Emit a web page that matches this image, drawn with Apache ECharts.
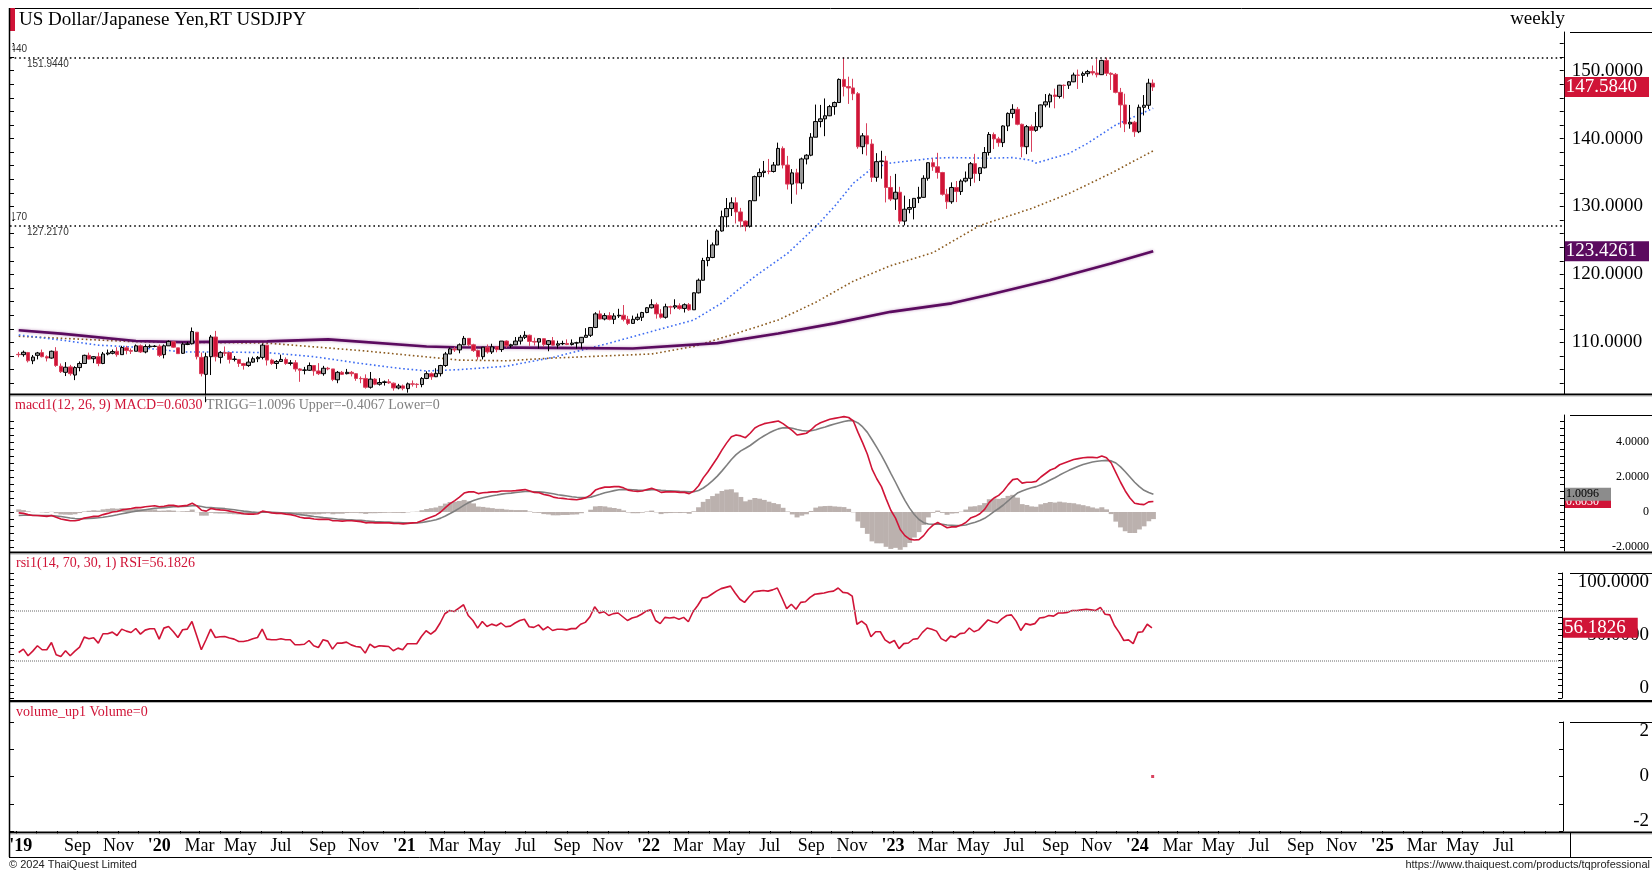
<!DOCTYPE html>
<html><head><meta charset="utf-8">
<script src="https://cdn.jsdelivr.net/npm/echarts@6/dist/echarts.min.js"></script>
<style>html,body{margin:0;padding:0;background:#fff}#c{width:1652px;height:871px}</style>
</head><body><div id="c"></div><script>
// ---------------- DATA ----------------
const firstWeek = '2019-06-03';   // Monday of first weekly bar
// weekly [open, close, low, high]
const ohlc = [
[108.25,108.20,107.82,108.60],[108.20,108.55,107.90,108.80],[108.50,107.30,107.05,108.60],[107.30,107.85,106.80,108.15],
[108.10,108.45,107.50,108.60],[108.50,107.90,107.80,108.95],[107.90,107.70,107.20,108.10],[107.70,108.70,107.60,108.80],
[108.70,106.60,106.40,109.30],[106.50,105.70,105.50,106.90],[105.60,106.35,105.05,107.10],[106.40,105.40,105.10,106.70],
[105.20,106.30,104.45,106.50],[106.30,106.90,105.75,107.20],[106.90,108.10,106.90,108.20],[108.10,107.55,107.50,108.50],
[107.60,107.90,106.95,108.00],[107.90,106.90,106.50,108.50],[106.90,108.30,106.80,108.60],[108.30,108.45,108.10,108.95],
[108.40,108.65,108.25,108.95],[108.70,108.20,107.90,109.30],[108.20,109.25,108.20,109.50],[109.20,108.80,108.25,109.50],
[108.80,108.70,108.30,109.10],[108.70,109.50,108.70,109.70],[109.50,108.60,108.45,109.70],[108.60,109.40,108.40,109.70],
[109.35,109.45,109.20,109.70],[109.40,109.45,109.30,109.60],[109.45,108.10,107.85,109.70],
[108.20,109.50,107.65,109.70],[109.50,110.15,109.50,110.30],[110.10,109.30,109.20,110.20],[109.20,108.35,108.30,109.20],
[108.40,109.75,108.30,110.00],[109.70,109.80,109.60,110.10],[109.80,111.60,109.70,112.20],[111.50,107.90,107.50,111.50],
[107.80,105.40,105.00,108.50],[105.30,107.90,101.20,108.50],[107.90,110.80,105.20,111.10],[110.80,107.90,107.20,111.70],
[107.80,108.50,106.90,108.70],[108.50,108.40,108.00,109.40],[108.50,107.50,106.90,108.10],[107.50,107.55,107.20,108.00],
[107.50,106.90,106.40,107.50],[106.90,106.60,106.00,107.00],[106.60,107.10,106.40,107.80],[107.10,107.60,107.00,107.90],
[107.60,107.80,107.10,108.00],[107.80,109.60,107.50,109.85],[109.60,107.40,106.60,109.60],[107.40,106.90,106.70,107.60],
[106.90,107.20,106.10,107.40],[107.20,107.50,107.20,108.20],[107.50,106.90,106.70,107.80],[106.90,107.00,106.60,107.40],
[107.00,106.10,105.70,107.40],[106.10,105.90,104.20,106.20],[105.90,105.95,105.30,106.40],[105.90,106.60,105.80,107.05],
[106.60,105.80,105.10,106.60],[105.80,105.40,105.20,106.95],[105.40,106.20,105.10,106.55],[106.20,106.10,105.90,106.40],
[106.10,104.55,104.30,106.10],[104.50,105.60,104.00,105.80],[105.60,105.30,105.20,105.80],[105.40,105.60,105.30,106.10],
[105.60,105.40,105.00,105.80],[105.40,104.70,104.35,105.50],[104.70,104.65,104.00,105.00],[104.70,103.40,103.20,105.30],
[103.40,104.60,103.20,105.65],[104.60,103.85,103.70,104.75],[103.85,104.10,103.65,104.75],[104.10,104.20,103.65,104.40],
[104.20,104.05,103.90,104.60],[104.00,103.30,102.90,104.10],[103.30,103.60,103.10,103.90],[103.60,103.25,102.95,103.80],
[103.20,103.90,102.60,104.10],[103.90,103.85,103.50,104.40],[103.85,103.80,103.30,104.00],[103.80,104.70,103.40,104.90],
[104.70,105.40,104.60,105.75],[105.40,104.95,104.50,105.60],[104.95,105.45,104.90,106.20],[105.40,106.60,105.00,106.70],
[106.60,108.30,106.40,108.60],[108.30,109.05,108.30,109.25],[109.00,108.90,108.60,109.35],[108.90,109.65,108.40,109.85],
[109.65,110.60,109.60,110.95],[110.60,109.65,109.50,110.60],[109.65,108.80,108.60,109.80],[108.80,107.90,107.45,108.95],
[107.90,109.30,107.50,109.30],[109.30,108.60,108.35,109.70],[108.60,109.35,108.30,109.80],[109.35,108.95,108.55,109.30],
[108.95,110.20,108.60,110.20],[110.20,109.50,109.20,110.30],[109.50,109.65,109.20,109.80],[109.65,110.20,109.60,110.80],
[110.20,110.75,109.70,111.10],[110.75,111.05,110.50,111.65],[111.05,110.15,109.50,111.15],[110.15,110.05,109.55,110.70],
[110.05,110.55,109.10,110.60],[110.55,109.70,109.35,110.60],[109.70,110.25,108.70,110.35],[110.25,109.60,109.55,110.80],
[109.60,109.80,109.10,110.25],[109.80,109.85,109.60,110.25],[109.85,109.70,109.60,110.45],[109.70,109.90,109.55,110.45],
[109.90,109.95,109.10,110.10],[109.95,110.75,109.10,110.80],[110.75,111.05,110.75,112.10],[111.05,112.20,110.80,112.25],
[112.20,114.20,112.10,114.45],[114.20,113.45,113.40,114.70],[113.45,113.95,113.25,114.30],[113.95,113.40,113.25,114.45],
[113.40,113.90,112.70,114.30],[113.90,114.00,113.60,114.95],[114.00,113.40,113.10,115.50],[113.40,112.80,112.55,113.90],
[112.80,113.40,112.75,113.95],[113.40,113.70,113.20,114.25],[113.70,114.40,113.15,114.50],[114.40,115.10,114.30,115.20],
[115.10,115.55,115.00,116.35],[115.55,114.20,113.50,115.85],[114.20,113.70,113.50,114.90],[113.70,115.25,113.50,115.70],
[115.25,115.20,114.15,115.40],[115.20,115.40,114.90,116.35],[115.40,115.00,114.80,115.75],[115.00,115.55,114.40,115.75],
[115.55,114.80,114.65,115.80],[114.80,117.30,114.80,117.35],[117.30,119.15,117.20,119.40],[119.15,122.05,119.10,122.45],
[122.05,122.50,121.20,125.10],[122.50,124.35,122.40,124.70],[124.35,126.40,124.30,126.70],[126.40,128.50,126.30,129.40],
[128.50,129.70,126.95,131.25],[129.70,130.55,128.60,131.35],[130.55,129.20,127.50,131.35],[129.20,127.85,126.95,129.80],
[127.85,127.10,126.35,127.95],[127.10,130.85,126.90,130.95],[130.85,134.40,130.80,134.55],[134.40,135.00,131.50,135.60],
[135.00,135.20,134.30,136.70],[135.20,135.15,134.75,137.00],[135.15,136.10,135.00,136.55],[136.10,138.55,136.10,139.40],
[138.55,136.10,135.60,138.85],[136.10,133.30,132.50,137.45],[133.30,134.95,130.40,135.50],[134.95,133.45,131.75,135.55],
[133.45,137.00,132.55,137.20],[137.00,137.55,136.20,137.70],[137.55,140.20,137.40,140.80],[140.20,142.50,140.20,145.00],
[142.50,142.90,141.65,144.95],[142.90,143.35,140.35,145.90],[143.35,144.70,143.30,144.95],[144.70,145.30,143.50,145.45],
[145.30,148.70,145.30,148.85],[148.70,147.65,146.20,151.95],[147.65,147.45,145.10,149.10],[147.45,146.60,145.65,148.80],
[146.60,138.80,138.50,146.85],[138.80,140.40,137.70,140.80],[140.40,139.20,137.50,142.25],[139.20,134.30,133.60,139.90],
[134.30,136.60,133.65,137.85],[136.60,136.70,134.10,138.20],[136.70,132.80,130.60,137.45],[132.80,131.10,130.80,134.50],
[131.10,132.10,129.50,134.80],[132.10,127.85,127.45,132.90],[127.85,129.60,127.22,131.60],[129.60,129.85,129.00,131.10],
[129.85,131.20,128.10,131.20],[131.20,131.35,130.50,132.90],[131.35,134.15,131.30,134.60],[134.15,136.45,133.80,136.50],
[136.45,135.85,135.25,137.10],[135.85,135.00,134.10,137.90],[135.00,131.80,131.60,135.10],[131.80,130.70,129.65,132.60],
[130.70,132.80,130.40,133.55],[132.80,132.20,130.65,133.75],[132.20,133.75,131.70,134.00],[133.75,134.15,133.55,135.15],
[134.15,136.30,133.00,136.55],[136.30,134.85,133.50,137.75],[134.85,135.70,133.75,135.75],[135.70,137.95,135.60,138.75],
[137.95,140.60,137.50,140.95],[140.60,139.95,138.45,140.90],[139.95,139.40,138.80,140.25],[139.40,141.85,138.75,141.95],
[141.85,143.70,141.10,143.85],[143.70,144.30,143.00,145.05],[144.30,142.10,141.95,144.65],[142.10,138.80,137.25,142.20],
[138.80,141.75,137.70,142.00],[141.75,141.20,138.05,142.05],[141.20,141.75,141.00,143.90],[141.75,144.95,141.50,145.00],
[144.95,145.40,144.60,146.55],[145.40,146.40,144.55,146.65],[146.40,146.20,144.45,147.35],[146.20,147.85,145.90,147.90],
[147.85,147.80,145.90,147.95],[147.85,148.35,147.30,148.45],[148.35,149.35,148.30,149.70],[149.35,149.30,147.30,150.15],
[149.30,149.55,148.20,149.85],[149.55,149.85,149.10,150.10],[149.85,149.65,149.30,150.75],[149.65,149.40,149.00,151.70],
[149.40,151.50,149.35,151.60],[151.50,149.60,149.20,151.90],[149.60,149.45,147.15,149.75],[149.45,146.80,146.65,149.65],
[146.80,144.95,141.60,147.45],[144.95,142.15,140.95,146.60],[142.15,142.40,141.45,144.95],[142.40,141.00,140.25,142.60],
[141.00,144.60,140.80,145.00],[144.60,144.90,143.40,146.40],[144.90,148.15,144.35,148.80],[148.15,147.58,147.00,148.70]
];
// moving averages: [bar index, value]
const maBlue = [[0,111.1],[9,110.35],[17,109.6],[25,109.3],[35,108.6],[42,108.6],[53,108.5],[63,107.9],[73,106.9],[81,106.2],[87,105.8],[94,106.0],[104,106.5],[114,107.8],[126,109.9],[136,111.8],[144,113.3],[150,115.8],[157,119.7],[164,123.1],[170,127.0],[174,130.0],[178,133.4],[182,135.6],[186,136.4],[195,137.1],[199,137.2],[207,137.1],[212,137.2],[216,136.8],[217,136.4],[224,137.8],[228,139.3],[234,142.0],[242,144.45]];
const maBrown = [[0,110.9],[25,110.1],[53,109.9],[73,108.8],[94,107.4],[104,107.3],[114,107.7],[135,108.3],[144,109.4],[153,111.3],[162,113.3],[170,115.9],[178,119.0],[186,121.3],[195,123.2],[205,127.2],[216,129.7],[224,131.9],[233,134.9],[242,138.2]];
const maPurple = [[0,111.8],[9,111.3],[25,110.2],[35,110.05],[53,110.15],[66,110.45],[87,109.4],[93,109.3],[114,109.2],[131,109.1],[149,109.9],[162,111.3],[174,112.8],[186,114.5],[199,115.75],[207,117.0],[220,119.2],[233,121.6],[242,123.4261]];
const macd = [
-0.05,-0.08,-0.15,-0.2,-0.2,-0.22,-0.25,-0.2,-0.3,-0.4,
-0.45,-0.5,-0.5,-0.45,-0.35,-0.3,-0.25,-0.25,-0.15,-0.08,
0.0,0.03,0.12,0.16,0.2,0.25,0.25,0.3,0.33,0.36,
0.3,0.33,0.38,0.38,0.32,0.35,0.38,0.5,0.35,0.1,
0.05,0.2,0.15,0.12,0.1,0.05,0.0,-0.05,-0.1,-0.12,
-0.12,-0.1,0.05,0.0,-0.05,-0.08,-0.08,-0.12,-0.15,-0.22,
-0.3,-0.35,-0.35,-0.4,-0.42,-0.42,-0.42,-0.5,-0.5,-0.52,
-0.5,-0.5,-0.52,-0.55,-0.62,-0.6,-0.62,-0.62,-0.62,-0.62,
-0.65,-0.66,-0.68,-0.65,-0.62,-0.6,-0.5,-0.38,-0.28,-0.18,
0.0,0.25,0.48,0.65,0.85,1.08,1.15,1.15,1.05,1.1,
1.12,1.15,1.15,1.2,1.2,1.2,1.22,1.25,1.28,1.2,
1.12,1.1,1.0,0.95,0.85,0.8,0.78,0.74,0.72,0.7,
0.75,0.82,0.98,1.25,1.35,1.42,1.42,1.45,1.45,1.38,
1.25,1.2,1.18,1.2,1.28,1.35,1.25,1.12,1.15,1.15,
1.15,1.12,1.12,1.05,1.2,1.5,1.95,2.3,2.7,3.1,
3.55,3.95,4.3,4.4,4.35,4.25,4.5,4.8,4.95,5.05,
5.1,5.15,5.2,5.05,4.85,4.65,4.4,4.45,4.5,4.7,
4.95,5.1,5.2,5.3,5.35,5.4,5.45,5.4,5.2,4.55,
3.95,3.3,2.45,1.9,1.45,0.75,0.1,-0.35,-1.0,-1.35,
-1.55,-1.6,-1.58,-1.35,-1.0,-0.75,-0.6,-0.75,-0.9,-0.85,
-0.85,-0.75,-0.6,-0.35,-0.25,-0.1,0.15,0.55,0.8,0.95,
1.2,1.55,1.85,1.9,1.65,1.7,1.7,1.75,2.0,2.2,
2.4,2.5,2.7,2.8,2.9,3.0,3.05,3.1,3.12,3.12,
3.1,3.2,3.1,2.8,2.25,1.7,1.2,0.8,0.5,0.45,
0.42,0.58,0.603];
const trigg = [
-0.2,-0.19,-0.19,-0.19,-0.2,-0.2,-0.21,-0.21,-0.23,-0.26,
-0.3,-0.34,-0.37,-0.39,-0.38,-0.37,-0.35,-0.33,-0.3,-0.26,
-0.21,-0.16,-0.1,-0.05,0.0,0.05,0.09,0.13,0.17,0.21,
0.23,0.25,0.28,0.3,0.3,0.31,0.33,0.36,0.36,0.31,
0.26,0.25,0.23,0.21,0.19,0.16,0.13,0.09,0.05,0.02,
-0.01,-0.03,-0.01,-0.01,-0.02,-0.03,-0.04,-0.06,-0.08,-0.11,
-0.15,-0.19,-0.22,-0.26,-0.29,-0.32,-0.34,-0.37,-0.4,-0.42,
-0.44,-0.45,-0.47,-0.48,-0.51,-0.53,-0.55,-0.56,-0.57,-0.58,
-0.6,-0.61,-0.62,-0.63,-0.63,-0.62,-0.6,-0.55,-0.5,-0.44,
-0.35,-0.23,-0.09,0.06,0.22,0.39,0.54,0.66,0.74,0.81,
0.87,0.93,0.97,1.02,1.06,1.08,1.11,1.14,1.17,1.17,
1.16,1.15,1.12,1.09,1.04,0.99,0.95,0.91,0.87,0.84,
0.82,0.82,0.85,0.93,1.01,1.1,1.16,1.22,1.27,1.29,
1.28,1.27,1.25,1.24,1.25,1.27,1.27,1.24,1.22,1.21,
1.2,1.18,1.17,1.15,1.16,1.23,1.37,1.56,1.79,2.05,
2.35,2.67,3.0,3.28,3.49,3.64,3.8,4.0,4.19,4.36,
4.51,4.64,4.75,4.81,4.82,4.79,4.71,4.66,4.63,4.64,
4.7,4.78,4.86,4.95,5.03,5.1,5.17,5.22,5.22,5.09,
4.86,4.55,4.13,3.69,3.24,2.74,2.21,1.7,1.16,0.66,
0.22,-0.14,-0.43,-0.61,-0.69,-0.7,-0.68,-0.7,-0.74,-0.76,
-0.78,-0.77,-0.74,-0.66,-0.58,-0.49,-0.36,-0.18,0.02,0.2,
0.4,0.63,0.87,1.08,1.2,1.3,1.38,1.45,1.56,1.69,
1.83,1.96,2.11,2.25,2.38,2.5,2.61,2.71,2.79,2.86,
2.9,2.93,2.95,2.92,2.8,2.58,2.3,2.0,1.7,1.45,
1.24,1.11,1.0096];
const hist = [
0.15,0.11,0.04,-0.01,0,-0.02,-0.04,0.01,-0.07,-0.14,
-0.15,-0.16,-0.13,-0.06,0.03,0.07,0.1,0.08,0.15,0.18,
0.21,0.19,0.22,0.21,0.2,0.2,0.16,0.17,0.16,0.15,
0.07,0.08,0.1,0.08,0.02,0.04,0.05,0.14,-0.01,-0.21,
-0.21,-0.05,-0.08,-0.09,-0.09,-0.11,-0.13,-0.14,-0.15,-0.14,
-0.11,-0.07,0.06,0.01,-0.03,-0.05,-0.04,-0.06,-0.07,-0.11,
-0.15,-0.16,-0.13,-0.14,-0.13,-0.1,-0.08,-0.13,-0.1,-0.1,
-0.06,-0.05,-0.05,-0.07,-0.11,-0.07,-0.07,-0.06,-0.05,-0.04,
-0.05,-0.05,-0.06,-0.02,0.01,0.02,0.1,0.17,0.22,0.26,
0.35,0.48,0.57,0.59,0.63,0.69,0.61,0.49,0.31,0.29,
0.25,0.22,0.18,0.18,0.14,0.12,0.11,0.11,0.11,0.03,
-0.04,-0.05,-0.12,-0.14,-0.19,-0.19,-0.17,-0.17,-0.15,-0.14,
-0.07,0,0.13,0.32,0.34,0.32,0.26,0.23,0.18,0.09,
-0.03,-0.07,-0.07,-0.04,0.03,0.08,-0.02,-0.12,-0.07,-0.06,
-0.05,-0.06,-0.05,-0.1,0.04,0.27,0.58,0.74,0.91,1.05,
1.2,1.28,1.3,1.12,0.86,0.61,0.7,0.8,0.76,0.69,
0.59,0.51,0.45,0.24,0.03,-0.14,-0.31,-0.21,-0.13,0.06,
0.25,0.32,0.34,0.35,0.32,0.3,0.28,0.18,-0.02,-0.54,
-0.91,-1.25,-1.68,-1.79,-1.79,-1.99,-2.11,-2.05,-2.16,-2.01,
-1.77,-1.46,-1.15,-0.74,-0.31,-0.05,0.08,-0.05,-0.16,-0.09,
-0.07,0.02,0.14,0.31,0.33,0.39,0.51,0.73,0.78,0.75,
0.8,0.92,0.98,0.82,0.45,0.4,0.32,0.3,0.44,0.51,
0.57,0.54,0.59,0.55,0.52,0.5,0.44,0.39,0.33,0.26,
0.2,0.27,0.15,-0.12,-0.55,-0.88,-1.1,-1.2,-1.2,-1.0,
-0.82,-0.53,-0.4067];
const rsi = [
36.4,39.1,33.8,37.5,41.8,38.6,38.6,44.4,34.6,33.2,
37.8,33.8,37.5,40.7,48.7,47.4,48.2,43.9,51.4,51.4,
52.7,50.0,55.1,53.5,52.4,55.6,51.1,54.3,55.4,55.4,
47.1,55.9,57.2,53.2,48.4,54.6,55.1,61.2,50.0,38.6,
46.6,55.1,48.4,49.0,49.2,48.0,47.1,45.2,45.2,46.0,
47.4,48.4,55.1,47.1,46.6,46.6,47.4,46.6,46.6,42.6,
42.6,43.0,46.0,41.8,40.4,46.6,45.5,39.1,43.9,43.9,
44.7,42.5,41.2,40.7,35.9,43.1,40.4,41.8,41.5,41.2,
37.8,39.9,38.6,43.4,43.4,43.4,49.2,53.8,51.1,54.0,
60.0,67.4,70.0,69.2,71.9,74.6,66.0,62.0,55.9,61.2,
57.2,59.1,57.8,60,57,57.5,60,62,63,57,
56.5,58.5,54.5,57,54,55,55,54.5,55.5,55.5,
59,60.5,65,73,68,69,66,67.5,68,65,
62,64,65,67,69.5,70.5,62,59.5,64.5,64,
64.5,63,64.5,61,69,74,80,80.5,83,85.5,
87.5,88.5,89.5,84,79,76.5,81,85,85.5,86,
85.5,86.5,88,80,71.5,75,71,76.5,77,80.5,
83,83.5,84,85,85.5,88,84.5,84,81.5,59,
61.5,58.5,49,53,53,46.5,44,46,39.5,43.5,
44,47,47.5,52.5,56,55,53.5,47.5,45.5,49.5,
48.5,51.5,52,56,53,54.5,58.5,62.5,61,60,
63.5,66,66.5,61.5,54,59.5,58.5,59.5,64,64.5,
66,65.5,68,68,68.5,70,70,70.5,71,70.5,
70,72.5,67,66.5,58,52.5,46,46.5,43.5,52.5,
53,59,56.1826];
const levels = [151.944, 127.217];           // dotted high / low lines
const lastValues = {close:147.584, ma200:123.4261, macd:0.603, trigg:1.0096, rsi:56.1826, volume:0};
const tickDates = ['2019-06-08','2019-09-01','2019-11-01','2020-01-01','2020-03-01','2020-05-01','2020-07-01','2020-09-01','2020-11-01',
'2021-01-01','2021-03-01','2021-05-01','2021-07-01','2021-09-01','2021-11-01','2022-01-01','2022-03-01','2022-05-01','2022-07-01','2022-09-01','2022-11-01',
'2023-01-01','2023-03-01','2023-05-01','2023-07-01','2023-09-01','2023-11-01','2024-01-01','2024-03-01','2024-05-01','2024-07-01','2024-09-01','2024-11-01',
'2025-01-01','2025-03-01','2025-05-01','2025-07-01'];
const tickLabels = ["'19",'Sep','Nov',"'20",'Mar','May','Jul','Sep','Nov',"'21",'Mar','May','Jul','Sep','Nov',"'22",'Mar','May','Jul','Sep','Nov',
"'23",'Mar','May','Jul','Sep','Nov',"'24",'Mar','May','Jul','Sep','Nov',"'25",'Mar','May','Jul'];
const priceTicks = [110,120,130,140,150];
const macdTicks = [-2,0,2,4];
const rsiTicks = [0,50,100];
const volTicks = [-2,0,2];

// ---------------- LAYOUT / STYLE ----------------
const SERIF = "'Liberation Serif','DejaVu Serif',serif";
const SANS = "'Liberation Sans','DejaVu Sans',sans-serif";
const RED = '#d01437', PURPLE = '#5b0b5f';
const L = 10, R = 1570, W = 1652;
const P = {main:[32,394], macd:[415,551], rsi:[573,698], vol:[722,831]};
const YR = {main:[102.41,155.68], macd:[-2.229,5.543], rsi:[0,100], vol:[-2,2]};
const XMIN = -223, XMAX = 2097;

const DAY0 = Date.UTC(2020,0,1);
function dayOf(s){const a=s.split('-').map(Number);return Math.round((Date.UTC(a[0],a[1]-1,a[2])-DAY0)/864e5);}
const w0 = dayOf(firstWeek);
const xs = ohlc.map((_,i)=>w0+7*i+2);
const tickDays = tickDates.map(dayOf);
const labelOf = {}; tickDays.forEach((d,i)=>{labelOf[d]=tickLabels[i];});
const monthDays=[]; for(let y=2019;y<=2025;y++)for(let m=0;m<12;m++){const d=(Date.UTC(y,m,1)-DAY0)/864e5; if(d>XMIN&&d<XMAX) monthDays.push(d);}
function range(a,b,s){const r=[];for(let v=a;v<=b+1e-9;v+=s)r.push(+v.toFixed(4));return r;}

const grids = ['main','macd','rsi','vol'].map(k=>({left:L,width:R-L,top:P[k][0],height:P[k][1]-P[k][0],containLabel:false}));
const xAxes = [0,1,2,3].map(gi=>({type:'value',gridIndex:gi,min:XMIN,max:XMAX,show:gi===3,position:'bottom',
  axisLine:{show:false,onZero:false},splitLine:{show:false},
  axisTick:{show:gi===3,customValues:monthDays,length:3,lineStyle:{color:'#000'}},
  axisLabel:{show:gi===3,customValues:tickDays,margin:6,fontSize:18,fontFamily:SERIF,color:'#000',
    formatter:v=>{const t=labelOf[v]||'';return t.charAt(0)==="'"?'{b|'+t+'}':t;},
    rich:{b:{fontWeight:'bold',fontSize:18,fontFamily:SERIF,color:'#000'}}}}));
function leftAxis(gi,rg,ticks){return {type:'value',gridIndex:gi,min:rg[0],max:rg[1],position:'left',
  axisLine:{show:false,onZero:false},splitLine:{show:false},axisLabel:{show:false},
  axisTick:{show:true,inside:true,length:4,customValues:ticks,lineStyle:{color:'#000'}}};}
function rightAxis(gi,rg,labels,fmt,lab,ticks){return {type:'value',gridIndex:gi,min:rg[0],max:rg[1],position:'right',
  axisLine:{show:true,onZero:false,lineStyle:{color:'#000',width:1}},splitLine:{show:false},
  axisTick:{show:true,inside:true,length:4,customValues:ticks,lineStyle:{color:'#000'}},
  axisLabel:Object.assign({customValues:labels,formatter:fmt,color:'#000',fontFamily:SERIF},lab)};}
function boxAxis(gi,rg,val,text,bg,fg,fs,z){return {type:'value',gridIndex:gi,min:rg[0],max:rg[1],position:'right',z:z,
  axisLine:{show:false,onZero:false},axisTick:{show:false},splitLine:{show:false},
  axisLabel:{customValues:[val],formatter:()=>text,backgroundColor:bg,color:fg,fontSize:fs,fontFamily:SERIF,
    padding:[1,12,0,1],margin:1,align:'left'}};}
const f4 = v=>v===0?'0':v.toFixed(4);
const yAxes = [
  leftAxis(0,YR.main,range(104,154,2)),
  rightAxis(0,YR.main,priceTicks,v=>v.toFixed(4),{fontSize:19,align:'left',margin:8},range(104,154,2)),
  boxAxis(0,YR.main,lastValues.close,'147.5840',RED,'#fff',19,5),
  boxAxis(0,YR.main,lastValues.ma200,'123.4261',PURPLE,'#fff',19,5),
  leftAxis(1,YR.macd,range(-2,5.2,0.4)),
  rightAxis(1,YR.macd,macdTicks,f4,{fontSize:12,align:'right',margin:85},range(-2,5.2,0.4)),
  boxAxis(1,YR.macd,lastValues.macd,'0.6030',RED,'#fff',12,5),
  boxAxis(1,YR.macd,lastValues.trigg,'1.0096','#8c8c8c','#000',12,6),
  leftAxis(2,YR.rsi,range(0,100,5)),
  rightAxis(2,YR.rsi,rsiTicks,f4,{fontSize:19,align:'right',margin:87,verticalAlignMaxLabel:'top',verticalAlignMinLabel:'bottom'},range(0,100,5)),
  boxAxis(2,YR.rsi,lastValues.rsi,'56.1826',RED,'#fff',19,5),
  leftAxis(3,YR.vol,range(-2,2,1)),
  rightAxis(3,YR.vol,volTicks,v=>String(v),{fontSize:19,align:'right',margin:86,verticalAlignMaxLabel:'top',verticalAlignMinLabel:'bottom'},range(-2,2,1))
];
const pair = arr=>arr.map((v,i)=>[xs[i],v]);
const maLine = (arr,color,width,type,extra)=>Object.assign({type:'line',xAxisIndex:0,yAxisIndex:1,showSymbol:false,symbol:'none',
  data:arr.map(([i,v])=>[xs[i],v]),lineStyle:{color,width,type},z:3,silent:true},extra||{});
const series = [
  maLine(maBrown,'#8b5a1e',1.6,[1.6,2.6]),
  maLine(maBlue,'#3d6cf2',1.6,[1.6,2.6]),
  maLine(maPurple,PURPLE,2.6,'solid',{lineStyle:{color:PURPLE,width:2.6,shadowBlur:3,shadowColor:'rgba(120,30,120,0.45)'}}),
  {type:'candlestick',xAxisIndex:0,yAxisIndex:1,z:4,barWidth:4,encode:{x:0,y:[1,2,3,4]},
   data:ohlc.map((r,i)=>[xs[i],r[0],r[1],r[2],r[3]]),
   itemStyle:{color:'#9a9a9a',color0:RED,borderColor:'#000',borderColor0:'#d9405c',borderWidth:1},
   markLine:{silent:true,symbol:'none',label:{show:false},lineStyle:{type:[1.6,3],color:'#000',width:1.6},
     data:levels.map(v=>({yAxis:v}))}},
  {type:'bar',xAxisIndex:1,yAxisIndex:5,barWidth:5,data:pair(hist),itemStyle:{color:'#bbb1ae'},silent:true},
  {type:'line',xAxisIndex:1,yAxisIndex:5,showSymbol:false,data:pair(trigg),lineStyle:{color:'#7f7f7f',width:1.6},silent:true},
  {type:'line',xAxisIndex:1,yAxisIndex:5,showSymbol:false,data:pair(macd),lineStyle:{color:RED,width:1.6},silent:true},
  {type:'line',xAxisIndex:2,yAxisIndex:9,showSymbol:false,data:pair(rsi),lineStyle:{color:RED,width:1.6},silent:true,
   markLine:{silent:true,symbol:'none',label:{show:false},lineStyle:{type:[1,1],color:'#9a9a9a',width:1.5},data:[{yAxis:70},{yAxis:30}]}},
  {type:'scatter',xAxisIndex:3,yAxisIndex:12,symbol:'rect',symbolSize:3,itemStyle:{color:RED},data:[[xs[xs.length-1],lastValues.volume]]}
];

const chart = echarts.init(document.getElementById('c'),null,{renderer:'canvas',width:1652,height:871});
chart.setOption({animation:false,backgroundColor:'#fff',grid:grids,xAxis:xAxes,yAxis:yAxes,series});

// ---------------- FRAME / TEXT ----------------
const g = [];
function ln(x1,y1,x2,y2,c,w,z){g.push({type:'line',silent:true,z:z||50,shape:{x1,y1,x2,y2},style:{stroke:c,lineWidth:w}});}
function rc(x,y,w,h,c,z){g.push({type:'rect',silent:true,z:z||50,shape:{x,y,width:w,height:h},style:{fill:c}});}
function tx(x,y,text,font,fill,align,z){g.push({type:'text',silent:true,z:z||60,x,y,style:{text,font,fill,align:align||'left',verticalAlign:'middle'}});}
// level labels at the left edge: one below the line, one above it cut off by the frame
levels.forEach(v=>{
  const py = chart.convertToPixel({yAxisIndex:1},v);
  const t = v.toFixed(4);
  tx(27,py+7,t,'10px '+SANS,'#333','left');
  tx(27,py-8,t,'10px '+SANS,'#333','right',58);
  rc(0,py-15,12.5,13,'#fff',59);
});
ln(9,8.5,W,8.5,'#000',1);
ln(9.5,8,9.5,857,'#000',1.5,61);
[[393.5,2],[551.5,2],[700,2],[831.5,2]].forEach(([y,h])=>{rc(9,y,W-9,h,'#000');rc(9,y+h,W-9,1,'#b5b5b5');});
ln(9,857.5,W,857.5,'#000',1);
ln(R+0.5,833,R+0.5,857,'#000',1);
Object.keys(P).forEach(k=>ln(R,P[k][0]+0.5,W,P[k][0]+0.5,'#000',1));
rc(10,8,5,23,RED,56);
tx(19,20,'US Dollar/Japanese Yen,RT USDJPY','19px '+SERIF,'#000');
tx(1565,19,'weekly','19px '+SERIF,'#000','right');
function rich(x,y,text,rich){g.push({type:'text',silent:true,z:60,x,y,style:{text,font:'14px '+SERIF,verticalAlign:'middle',rich}});}
rich(15,405,'{r|macd1(12, 26, 9) MACD=0.6030} {g|TRIGG=1.0096 Upper=-0.4067 Lower=0}',
  {r:{fill:RED,font:'14px '+SERIF},g:{fill:'#808080',font:'14px '+SERIF}});
rich(16,563,'{r|rsi1(14, 70, 30, 1) RSI=56.1826}',{r:{fill:RED,font:'14px '+SERIF}});
rich(16,712,'{r|volume_up1 Volume=0}',{r:{fill:RED,font:'14px '+SERIF}});
tx(9,865,'\u00a9 2024 ThaiQuest Limited','11px '+SANS,'#222','left');
tx(1650,865,'https://www.thaiquest.com/products/tqprofessional','11px '+SANS,'#222','right');
chart.setOption({graphic:g});
</script></body></html>
